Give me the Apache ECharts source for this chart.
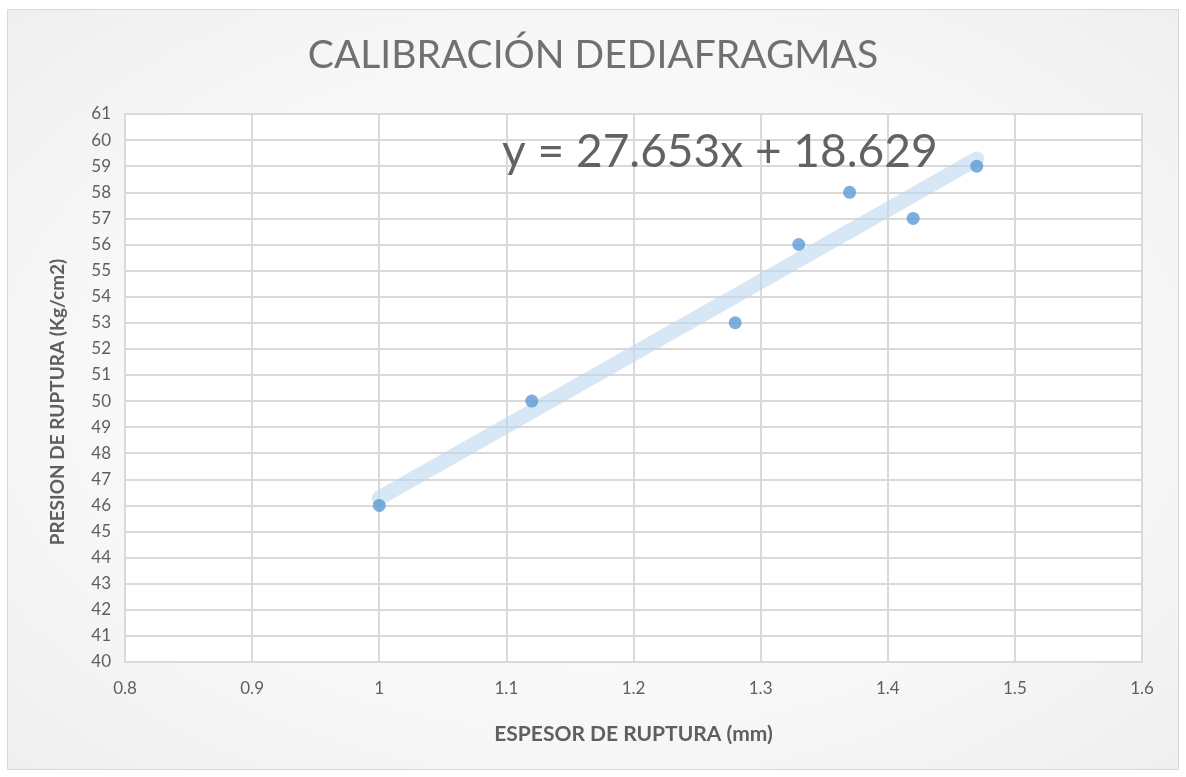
<!DOCTYPE html>
<html>
<head>
<meta charset="utf-8">
<script src="https://cdn.jsdelivr.net/npm/echarts@6/dist/echarts.min.js"></script>
<style>
  html, body { margin: 0; padding: 0; background: #ffffff; }
  #frame {
    position: absolute; left: 7px; top: 9px; width: 1172px; height: 761px;
    border: 1px solid #d9d9d9; box-sizing: border-box;
    background: radial-gradient(ellipse at center, #ffffff 0%, #f8f8f8 60%, #efefef 100%);
  }
  #chart { position: absolute; left: 0; top: 0; width: 1186px; height: 777px; }
</style>
</head>
<body>
<div id="frame"></div>
<div id="chart"></div>
<script>
  // espesor (mm) vs presion (kg/cm2)
  const espesor = [1.0, 1.12, 1.28, 1.33, 1.37, 1.42, 1.47]
  const presion = [46, 50, 53, 56, 58, 57, 59]

  // linear trendline shown on the chart
  const slope = 27.653
  const intercept = 18.629
  const trendX = [Math.min(...espesor), Math.max(...espesor)]

  const font = "Lato, 'Open Sans', sans-serif"
  const textGrey = "#5f5f5f"

  const chart = echarts.init(document.getElementById("chart"), null, { renderer: "canvas" })

  const option = {
    backgroundColor: "transparent",
    animation: false,
    title: [
      {
        text: "CALIBRACIÓN DEDIAFRAGMAS",
        left: "center",
        top: 31,
        textStyle: { fontFamily: font, fontSize: 39, fontWeight: "normal", color: "#707070" },
      },
      {
        text: "y = 27.653x + 18.629",
        left: 497,
        top: 124,
        textStyle: { fontFamily: font, fontSize: 46, fontWeight: "normal", color: "#626262" },
      },
    ],
    grid: { left: 125, right: 44, top: 114, bottom: 115, show: true, backgroundColor: "#ffffff", borderWidth: 0 },
    xAxis: {
      type: "value",
      min: 0.8,
      max: 1.6,
      interval: 0.1,
      name: "ESPESOR DE RUPTURA (mm)",
      nameLocation: "middle",
      nameGap: 62,
      nameTextStyle: { fontFamily: font, fontSize: 21, fontWeight: "bold", color: textGrey },
      axisLine: { show: true, lineStyle: { color: "#d9d9d9", width: 2 } },
      axisTick: { show: false },
      axisLabel: {
        fontFamily: font, fontSize: 17, color: textGrey, margin: 18,
        formatter: (v) => String(Math.round(v * 10) / 10),
      },
      splitLine: { show: true, lineStyle: { color: "#d9d9d9", width: 2 } },
    },
    yAxis: {
      type: "value",
      min: 40,
      max: 61,
      interval: 1,
      name: "PRESION DE RUPTURA (Kg/cm2)",
      nameLocation: "middle",
      nameGap: 58,
      nameTextStyle: { fontFamily: font, fontSize: 19, fontWeight: "bold", color: textGrey, padding: [0, 28, 0, 0] },
      axisLine: { show: true, lineStyle: { color: "#d9d9d9", width: 2 } },
      axisTick: { show: false },
      axisLabel: { fontFamily: font, fontSize: 17, color: textGrey, margin: 14 },
      splitLine: { show: true, lineStyle: { color: "#d9d9d9", width: 2 } },
    },
    series: [
      {
        name: "Lineal",
        type: "line",
        data: trendX.map((x) => [x, slope * x + intercept]),
        symbol: "none",
        lineStyle: { color: "#bdd7ee", width: 15, opacity: 0.6, cap: "round" },
        z: 2,
      },
      {
        name: "Presion",
        type: "scatter",
        data: espesor.map((x, i) => [x, presion[i]]),
        symbol: "circle",
        symbolSize: 13,
        itemStyle: { color: "#5b9bd5" },
        z: 3,
      },
    ],
  }

  chart.setOption(option)
  window.addEventListener("resize", () => chart.resize())
</script>
</body>
</html>
